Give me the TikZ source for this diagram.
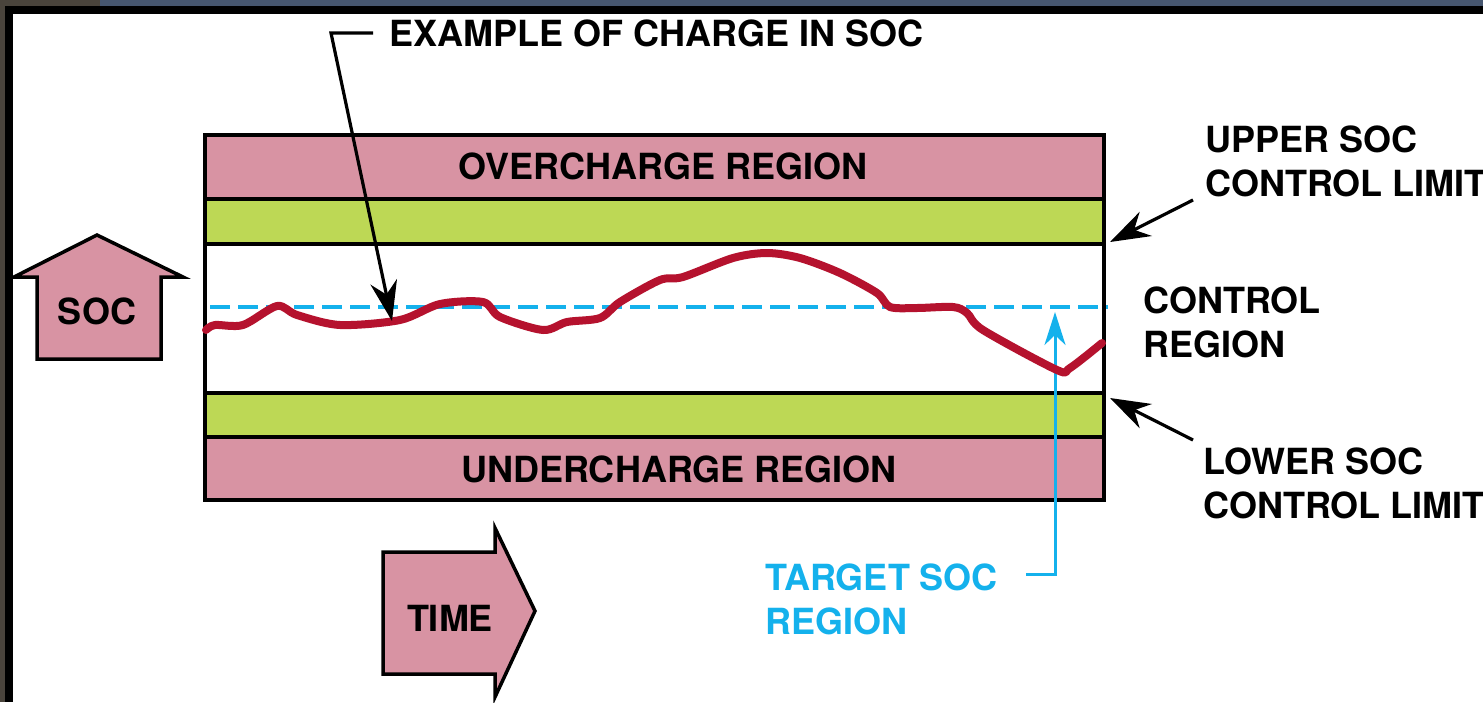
\documentclass[tikz,border=0pt]{standalone}
\usepackage{fontspec}
\setmainfont{TeX Gyre Heros}
\usetikzlibrary{arrows.meta}
\definecolor{pinkr}{HTML}{D893A3}
\definecolor{limeg}{HTML}{BDD855}
\definecolor{socred}{HTML}{B5122E}
\definecolor{cyanb}{HTML}{14B1EC}
\definecolor{slate}{HTML}{46566F}
\definecolor{photo}{HTML}{4A443C}
\begin{document}
\begin{tikzpicture}[x=1pt,y=-1pt,
  lbl/.style={font=\fontsize{36}{44}\selectfont\bfseries, inner sep=0pt, align=left},
  band/.style={draw=black, line width=3.5pt},
  bigarrow/.style={draw=black, fill=pinkr, line width=3.5pt, line join=miter},
  pointer/.style={draw=black, line width=3.2pt, -{Stealth[length=40pt,width=27pt,inset=13pt]}},
  cyanpointer/.style={draw=cyanb, line width=3pt, -{Stealth[length=33pt,width=21pt,inset=10pt]}}]
\useasboundingbox (0,0) rectangle (1483,702);
\clip (0,0) rectangle (1483,702);
% screenshot frame
\fill[black] (0,0) rectangle (1483,702);
\fill[slate] (100,0) rectangle (1483,6);
\fill[photo] (0,0) rectangle (100,6);
\fill[photo] (0,0) rectangle (5,702);
\fill[white] (13,14) rectangle (1483,702);

% bands
\filldraw[band, fill=pinkr] (205,135) rectangle (1104,199);
\filldraw[band, fill=limeg] (205,199) rectangle (1104,244);
\filldraw[band, fill=white] (205,244) rectangle (1104,393);
\filldraw[band, fill=limeg] (205,393) rectangle (1104,437);
\filldraw[band, fill=pinkr] (205,437) rectangle (1104,500);
\node[lbl] (over) at (663,166) {OVERCHARGE REGION};
\node[lbl] (under) at (679,469) {UNDERCHARGE REGION};

% target dashed line
\draw[cyanb, line width=4pt, dash pattern=on 20pt off 8pt] (210,307) -- (1108,307);

% SOC arrow
\draw[bigarrow] (37,359) -- (37,277) -- (14,277) -- (97,235) -- (183,277) -- (161,277) -- (161,359) -- cycle;
\node[lbl] (soc) at (97,311) {SOC};

% TIME arrow
\draw[bigarrow] (383,552) -- (495,552) -- (495,528) -- (535,611) -- (495,697) -- (495,674) -- (383,674) -- cycle;
\node[lbl] (time) at (450,618) {TIME};

% target SOC label and pointer
\node[lbl, text=cyanb, anchor=north west] (target) at (765,564) {TARGET SOC\\REGION};
\coordinate (tbend) at (1055,574);
\coordinate (ttip) at (1055,312);
\draw[cyanpointer] ([xshift=28pt]target.north east |- tbend) -- (tbend) -- (ttip);

% SOC curve
\draw[socred, line width=8pt, line join=round, line cap=round]
  plot[smooth, tension=0.5] coordinates {(206,330) (215,325) (243,325) (277,306) (297,315) (340,325) (400,320) (440,304) (483,302) (500,317) (543,330) (567,322) (600,318) (620,302) (660,280) (683,277) (733,258) (767,253) (800,258) (840,273) (877,293) (890,307) (917,308) (953,307) (967,313) (983,330) (1057,370) (1070,368) (1102,343)};

% example label
\node[lbl, anchor=north west] (ex) at (389,20) {EXAMPLE OF CHARGE IN SOC};
\coordinate (exbend) at (331,33);
\coordinate (extip) at (392,321);
\draw[pointer] ([xshift=-16pt]ex.west |- exbend) -- (exbend) -- (extip);

% right labels
\node[lbl, anchor=north west] (upper) at (1205,126) {UPPER SOC\\CONTROL LIMIT};
\node[lbl, anchor=north west] (ctrl) at (1143,287) {CONTROL\\REGION};
\node[lbl, anchor=north west] (lower) at (1203,448) {LOWER SOC\\CONTROL LIMIT};
\coordinate (utail) at (1193,200);
\coordinate (utip) at (1110,242);
\coordinate (ltail) at (1193,440);
\coordinate (ltip) at (1110,398);
\draw[pointer] (utail) -- (utip);
\draw[pointer] (ltail) -- (ltip);
\end{tikzpicture}
\end{document}
